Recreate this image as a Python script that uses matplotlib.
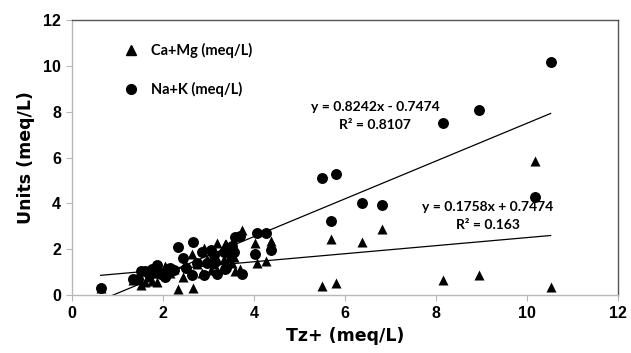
import matplotlib
matplotlib.use("Agg")
import matplotlib.pyplot as plt
import numpy as np

# Total cations (Tz+) and the two cation groups per sample, meq/L
tz = [0.63, 1.33, 1.45, 1.51, 1.60, 1.70, 1.75, 1.86, 1.90, 1.95,
      2.05, 2.07, 2.15, 2.25, 2.34, 2.43, 2.50, 2.63, 2.65, 2.75,
      2.85, 2.90, 2.96, 3.05, 3.11, 3.14, 3.18, 3.33, 3.36, 3.38,
      3.45, 3.51, 3.55, 3.58, 3.69, 3.73, 4.02, 4.07, 4.26, 4.37,
      5.50, 5.69, 5.81, 6.37, 6.82, 8.16, 8.95, 10.17, 10.52]
ca_mg = [0.31, 0.65, 0.75, 0.44, 0.55, 0.80, 0.62, 0.55, 0.95, 1.05,
         1.27, 1.20, 0.95, 1.15, 0.25, 0.80, 1.30, 1.78, 0.32, 1.35,
         0.95, 2.03, 1.58, 1.10, 1.36, 1.69, 2.28, 1.56, 2.24, 2.23,
         1.60, 1.38, 1.67, 1.03, 1.12, 2.84, 2.28, 1.38, 1.50, 2.37,
         0.39, 2.45, 0.51, 2.31, 2.87, 0.65, 0.87, 5.85, 0.34]
na_k = [0.32, 0.68, 0.70, 1.05, 1.05, 0.90, 1.13, 1.31, 0.95, 0.90,
        0.78, 0.87, 1.20, 1.10, 2.11, 1.63, 1.20, 0.87, 2.30, 1.40,
        1.86, 0.87, 1.38, 1.95, 1.75, 1.45, 0.90, 1.89, 1.12, 1.19,
        1.85, 2.13, 1.89, 2.55, 2.57, 0.90, 1.79, 2.72, 2.72, 1.97,
        5.11, 3.23, 5.28, 4.03, 3.94, 7.50, 8.06, 4.29, 10.17]

# Linear trend lines (slope, intercept, R²)
fit_na_k = (0.8242, -0.7474, 0.8107)
fit_ca_mg = (0.1758, 0.7474, 0.163)

series_labels = ["Ca+Mg (meq/L)", "Na+K (meq/L)"]
x_ticks = [0, 2, 4, 6, 8, 10, 12]
y_ticks = [0, 2, 4, 6, 8, 10, 12]

fig = plt.figure(figsize=(6.31, 3.53), dpi=100)
ax = fig.add_axes([0.1141, 0.1643, 0.8653, 0.779])

ax.scatter(tz, ca_mg, marker="^", s=52, color="black", linewidths=0, zorder=3)
ax.scatter(tz, na_k, marker="o", s=62, color="black", linewidths=0, zorder=3)

xs = np.array([min(tz), max(tz)])
for slope, icpt, _ in (fit_na_k, fit_ca_mg):
    ax.plot(xs, slope * xs + icpt, color="black", lw=0.9, zorder=2)

ax.set_xlim(0, 12)
ax.set_ylim(0, 12)
ax.set_xticks(x_ticks)
ax.set_yticks(y_ticks)
ax.set_xticklabels([str(v) for v in x_ticks], fontfamily="Liberation Sans",
                   fontweight="bold", fontsize=11.5)
ax.set_yticklabels([str(v) for v in y_ticks], fontfamily="Liberation Sans",
                   fontweight="bold", fontsize=11.5)
ax.tick_params(axis="both", direction="out", length=4, width=0.8,
               color="#b8b8b8", pad=4)

for side in ("left", "bottom"):
    ax.spines[side].set_color("#b8b8b8")
    ax.spines[side].set_linewidth(1.0)
for side in ("top", "right"):
    ax.spines[side].set_color("#555555")
    ax.spines[side].set_linewidth(1.0)

ax.set_xlabel("Tz+ (meq/L)", fontfamily="DejaVu Sans", fontweight="bold",
              fontsize=12.5, labelpad=4)
ax.set_ylabel("Units (meq/L)", fontfamily="DejaVu Sans", fontweight="bold",
              fontsize=12.5, labelpad=6)

# Legend drawn as markers plus text in the upper-left corner
leg_font = dict(fontfamily="Lato", fontweight="bold", fontsize=10.5,
                va="center", ha="left")
ax.plot([1.3], [10.68], marker="^", ms=6.5, color="black", clip_on=False)
ax.text(1.73, 10.68, series_labels[0], **leg_font)
ax.plot([1.3], [8.98], marker="o", ms=7, color="black", clip_on=False)
ax.text(1.73, 8.98, series_labels[1], **leg_font)

eq_font = dict(fontfamily="Lato", fontweight="bold", fontsize=10,
               ha="center", va="center")
s, b, r2 = fit_na_k
ax.text(6.66, 8.2, f"y = {s:.4f}x - {abs(b):.4f}", **eq_font)
ax.text(6.66, 7.42, f"R² = {r2:.4f}", **eq_font)
s, b, r2 = fit_ca_mg
ax.text(9.14, 3.82, f"y = {s:.4f}x + {b:.4f}", **eq_font)
ax.text(9.14, 3.04, f"R² = {r2:.3f}", **eq_font)

fig.savefig("out.png", dpi=100)
